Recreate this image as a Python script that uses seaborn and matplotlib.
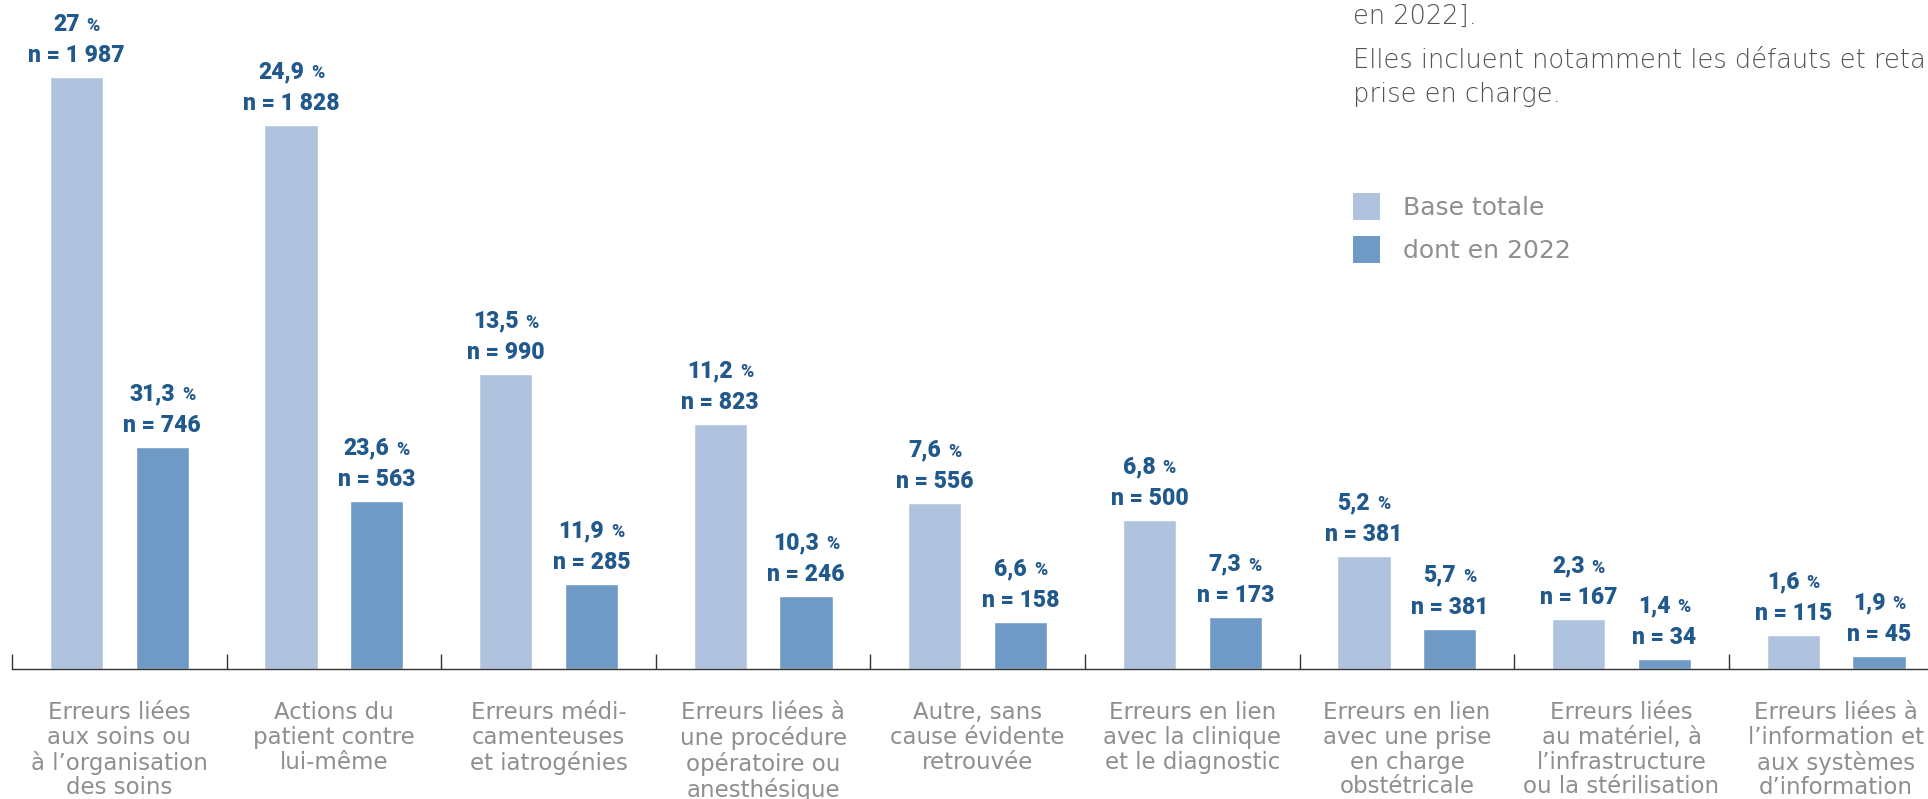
import matplotlib
matplotlib.use("Agg")
import matplotlib.pyplot as plt
import seaborn as sns
import pandas as pd
from matplotlib.offsetbox import TextArea, HPacker, AnnotationBbox
from matplotlib.patches import Rectangle

# ---------------- data ----------------
categories = [
    "Erreurs liées\naux soins ou\nà l’organisation\ndes soins",
    "Actions du\npatient contre\nlui-même",
    "Erreurs médi-\ncamenteuses\net iatrogénies",
    "Erreurs liées à\nune procédure\nopératoire ou\nanesthésique",
    "Autre, sans\ncause évidente\nretrouvée",
    "Erreurs en lien\navec la clinique\net le diagnostic",
    "Erreurs en lien\navec une prise\nen charge\nobstétricale",
    "Erreurs liées\nau matériel, à\nl’infrastructure\nou la stérilisation",
    "Erreurs liées à\nl’information et\naux systèmes\nd’information",
]
series = ["Base totale", "dont en 2022"]
pct_total = [27, 24.9, 13.5, 11.2, 7.6, 6.8, 5.2, 2.3, 1.6]
n_total = [1987, 1828, 990, 823, 556, 500, 381, 167, 115]
pct_2022 = [31.3, 23.6, 11.9, 10.3, 6.6, 7.3, 5.7, 1.4, 1.9]
n_2022 = [746, 563, 285, 246, 158, 173, 136, 34, 45]          # bar heights
n_2022_printed = [746, 563, 285, 246, 158, 173, 381, 34, 45]  # labels as printed
note_lines = ["en 2022].", "Elles incluent notamment les défauts et retards de", "prise en charge."]

LIGHT = "#afc3df"
DARK = "#6f9ac6"
LABEL = "#22598c"
GREY = "#8e8e93"
TEXT = "#505055"

sns.set_theme(style="white")
plt.rcParams["font.family"] = ["Roboto", "DejaVu Sans"]

W, H = 1928, 799
fig = plt.figure(figsize=(W / 100, H / 100), dpi=100)
ax = fig.add_axes([0, 130 / H, 1, 669 / H])

df = pd.DataFrame({
    "cat": categories * 2,
    "serie": [series[0]] * len(categories) + [series[1]] * len(categories),
    "n": n_total + n_2022,
})
sns.barplot(data=df, x="cat", y="n", hue="serie", order=categories, hue_order=series,
            palette=[LIGHT, DARK], saturation=1, width=0.8, gap=0.38,
            errorbar=None, legend=False, ax=ax)

ax.set_xlabel("")
ax.set_ylabel("")
ax.set_yticks([])
ax.set_xticks(range(len(categories)))
ax.set_xticklabels(categories)
ax.set_xticks([i - 0.5 for i in range(len(categories) + 1)], minor=True)
ax.set_xlim(-0.556, 8.428)
ax.set_ylim(0, 2247)

for s in ["left", "top", "right"]:
    ax.spines[s].set_visible(False)
ax.spines["bottom"].set_color("#333333")
ax.spines["bottom"].set_linewidth(1.0)
ax.spines["bottom"].set_bounds(-0.5, 8.428)

ax.tick_params(axis="x", which="major", bottom=True, length=0, pad=23,
               labelsize=16.5, labelcolor=GREY)
ax.tick_params(axis="x", which="minor", bottom=True, direction="in", length=10.8,
               width=1.0, color="#333333")
for lbl in ax.get_xticklabels():
    lbl.set_fontfamily(["DejaVu Sans"])
    lbl.set_linespacing(1.1)


def fmt_pct(v):
    return f"{v:g}".replace(".", ",")


VW = "heavy"
for container, pcts, ns in zip(ax.containers, [pct_total, pct_2022], [n_total, n_2022_printed]):
    for bar, p, nv in zip(container, pcts, ns):
        x = bar.get_x() + bar.get_width() / 2
        h = bar.get_height()
        ax.annotate(f"n = {nv:,}".replace(",", " "), (x, h), xytext=(0, 10.8),
                    textcoords="offset points", ha="center", va="baseline",
                    fontsize=16.5, fontweight=VW, color=LABEL)
        num = TextArea(fmt_pct(p), textprops=dict(fontsize=16.5, fontweight=VW, color=LABEL))
        pc = TextArea("%", textprops=dict(fontsize=13, fontweight=VW, color=LABEL))
        box = HPacker(children=[num, pc], align="baseline", pad=0, sep=5)
        ab = AnnotationBbox(box, (x, h), xybox=(0, 30), boxcoords="offset points",
                            frameon=False, box_alignment=(0.5, 0), pad=0)
        ax.add_artist(ab)

# legend
for i, (lab, col) in enumerate(zip(series, [LIGHT, DARK])):
    top = 193 + 43 * i
    fig.add_artist(Rectangle((1353 / W, 1 - (top + 27) / H), 27 / W, 27 / H,
                             transform=fig.transFigure, color=col, lw=0))
    fig.text(1403 / W, 1 - (top + 22) / H, lab, ha="left", va="baseline", fontsize=18,
             fontfamily=["DejaVu Sans"], color=GREY)

# note text (top right)
for txt, yb in zip(note_lines, [24, 68, 102]):
    fig.text(1353 / W, 1 - yb / H, txt, ha="left", va="baseline", fontsize=18.5,
             fontfamily=["DejaVu Sans"], fontweight="light", color=TEXT)

fig.savefig("out.png", dpi=100)
